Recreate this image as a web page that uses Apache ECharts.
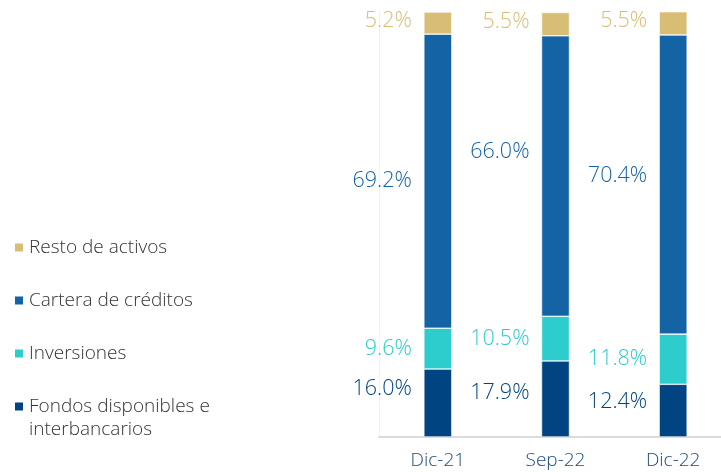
<!DOCTYPE html>
<html>
<head>
<meta charset="utf-8">
<script src="https://cdn.jsdelivr.net/npm/echarts@6/dist/echarts.min.js"></script>
<style>
  html, body { margin: 0; padding: 0; background: #fff; }
  #chart { width: 721px; height: 472px; }
</style>
</head>
<body>
<div id="chart"></div>
<script>
  // datos (% del activo)
  const categories = ['Dic-21', 'Sep-22', 'Dic-22'];
  const fondos = [16.0, 17.9, 12.4];
  const inversiones = [9.6, 10.5, 11.8];
  const cartera = [69.2, 66.0, 70.4];
  const resto = [5.2, 5.5, 5.5];

  const font = '"Open Sans", Lato, sans-serif';
  const colors = {
    fondos: '#004481',
    inversiones: '#2DCCCD',
    cartera: '#1464A5',
    resto: '#D8BE75'
  };

  // desplazamiento vertical de etiquetas (px)
  function serie(name, values, color, offsets) {
    return {
      name: name,
      type: 'bar',
      stack: 'total',
      barWidth: 28,
      data: values.map((v, i) => ({ value: v, label: { offset: [0, offsets[i]] } })),
      itemStyle: { color: color, borderColor: '#fff', borderWidth: 0.6 },
      label: {
        show: true,
        position: 'left',
        distance: 12,
        formatter: p => p.value.toFixed(1) + '%',
        color: color,
        fontFamily: font,
        fontWeight: 300,
        fontSize: 21.5
      }
    };
  }

  const legendText = { fontFamily: font, fontSize: 19, fontWeight: 300, color: '#333', lineHeight: 23 };

  const chart = echarts.init(document.getElementById('chart'));
  chart.setOption({
    animation: false,
    grid: { left: 379, top: 12, bottom: 35, width: 353, outerBoundsMode: 'none' },
    legend: [
      {
        orient: 'vertical',
        left: 8,
        top: 231,
        itemWidth: 10,
        itemHeight: 10,
        itemGap: 30,
        icon: 'rect',
        data: ['Resto de activos', 'Cartera de créditos', 'Inversiones'],
        textStyle: legendText
      },
      {
        orient: 'vertical',
        left: 8,
        top: 367,
        itemWidth: 10,
        itemHeight: 10,
        icon: 'rect',
        data: ['Fondos disponibles e interbancarios'],
        formatter: () => '\nFondos disponibles e\ninterbancarios',
        textStyle: legendText
      }
    ],
    xAxis: {
      type: 'category',
      data: categories,
      axisTick: { show: false },
      axisLine: { lineStyle: { color: '#cfcfcf', width: 1.5 } },
      axisLabel: { fontFamily: font, fontSize: 19, fontWeight: 300, color: '#1d4a7d', margin: 14 }
    },
    yAxis: {
      type: 'value',
      min: 0,
      max: 100,
      splitLine: { show: false },
      axisLabel: { show: false },
      axisTick: { show: false },
      axisLine: { show: true, lineStyle: { color: '#f3f3f3' } }
    },
    series: [
      serie('Fondos disponibles e interbancarios', fondos, colors.fondos, [-14, -6, -9]),
      serie('Inversiones', inversiones, colors.inversiones, [0, 0, 0]),
      serie('Cartera de créditos', cartera, colors.cartera, [0, -24, -9]),
      serie('Resto de activos', resto, colors.resto, [-2, -2, -2])
    ]
  });
</script>
</body>
</html>
